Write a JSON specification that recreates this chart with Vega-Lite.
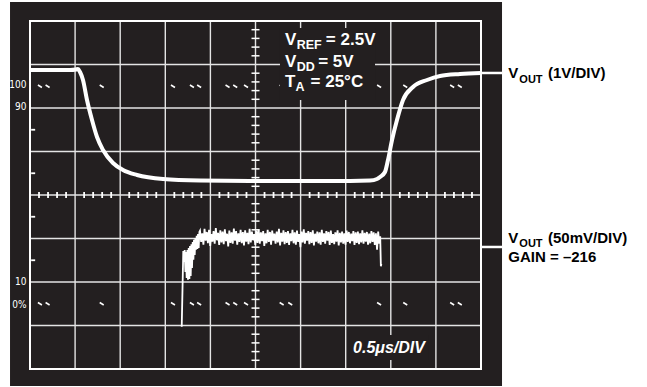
{
  "$schema": "https://vega.github.io/schema/vega-lite/v6.json",
  "width": 451,
  "height": 348,
  "autosize": {"type": "none"},
  "padding": {"left": 30, "top": 21, "right": 166, "bottom": 18},
  "background": "#ffffff",
  "config": {"view": {"stroke": null}, "axis": {"disable": true}},
  "datasets": {
    "one": [{}],
    "gridx": [{"g": 1}, {"g": 2}, {"g": 3}, {"g": 4}, {"g": 5}, {"g": 6}, {"g": 7}, {"g": 8}, {"g": 9}],
    "gridy": [{"g": 1}, {"g": 2}, {"g": 3}, {"g": 4}, {"g": 5}, {"g": 6}, {"g": 7}],
    "vticks": [{"v": 0.2}, {"v": 0.4}, {"v": 0.6}, {"v": 0.8}, {"v": 1.2}, {"v": 1.4}, {"v": 1.6}, {"v": 1.8}, {"v": 2.2}, {"v": 2.4}, {"v": 2.6}, {"v": 2.8}, {"v": 3.2}, {"v": 3.4}, {"v": 3.6}, {"v": 3.8}, {"v": 4.2}, {"v": 4.4}, {"v": 4.6}, {"v": 4.8}, {"v": 5.2}, {"v": 5.4}, {"v": 5.6}, {"v": 5.8}, {"v": 6.2}, {"v": 6.4}, {"v": 6.6}, {"v": 6.8}, {"v": 7.2}, {"v": 7.4}, {"v": 7.6}, {"v": 7.8}],
    "hticks": [{"v": 0.2}, {"v": 0.4}, {"v": 0.6}, {"v": 0.8}, {"v": 1.2}, {"v": 1.4}, {"v": 1.6}, {"v": 1.8}, {"v": 2.2}, {"v": 2.4}, {"v": 2.6}, {"v": 2.8}, {"v": 3.2}, {"v": 3.4}, {"v": 3.6}, {"v": 3.8}, {"v": 4.2}, {"v": 4.4}, {"v": 4.6}, {"v": 4.8}, {"v": 5.2}, {"v": 5.4}, {"v": 5.6}, {"v": 5.8}, {"v": 6.2}, {"v": 6.4}, {"v": 6.6}, {"v": 6.8}, {"v": 7.2}, {"v": 7.4}, {"v": 7.6}, {"v": 7.8}, {"v": 8.2}, {"v": 8.4}, {"v": 8.6}, {"v": 8.8}, {"v": 9.2}, {"v": 9.4}, {"v": 9.6}, {"v": 9.8}],
    "lticks": [{"v": 2.5}, {"v": 3.5}, {"v": 4.5}, {"v": 5.5}],
    "markers": [
      {"x": 0.22, "y": 6.5}, {"x": 0.39, "y": 6.5}, {"x": 1.59, "y": 6.5}, {"x": 3.17, "y": 6.5}, {"x": 3.59, "y": 6.5}, {"x": 3.75, "y": 6.5}, {"x": 4.38, "y": 6.5}, {"x": 4.55, "y": 6.5}, {"x": 4.79, "y": 6.5}, {"x": 5.58, "y": 6.5}, {"x": 5.77, "y": 6.5}, {"x": 7.74, "y": 6.5}, {"x": 8.32, "y": 6.5}, {"x": 9.36, "y": 6.5}, {"x": 9.53, "y": 6.5},
      {"x": 0.22, "y": 1.5}, {"x": 0.39, "y": 1.5}, {"x": 1.59, "y": 1.5}, {"x": 3.17, "y": 1.5}, {"x": 3.59, "y": 1.5}, {"x": 3.75, "y": 1.5}, {"x": 4.38, "y": 1.5}, {"x": 4.55, "y": 1.5}, {"x": 4.79, "y": 1.5}, {"x": 5.58, "y": 1.5}, {"x": 5.77, "y": 1.5}, {"x": 7.74, "y": 1.5}, {"x": 8.32, "y": 1.5}, {"x": 9.36, "y": 1.5}, {"x": 9.53, "y": 1.5}
    ],
    "top": [
      {"x": 0, "y": 6.874}, {"x": 0.443, "y": 6.874}, {"x": 0.887, "y": 6.874}, {"x": 1.02, "y": 6.885}, {"x": 1.064, "y": 6.897}, {"x": 1.109, "y": 6.828}, {"x": 1.175, "y": 6.644}, {"x": 1.264, "y": 6.184}, {"x": 1.375, "y": 5.724}, {"x": 1.486, "y": 5.333}, {"x": 1.619, "y": 5.034}, {"x": 1.84, "y": 4.736}, {"x": 2.062, "y": 4.575}, {"x": 2.373, "y": 4.46}, {"x": 2.949, "y": 4.368}, {"x": 3.769, "y": 4.333}, {"x": 4.878, "y": 4.322}, {"x": 5.987, "y": 4.322}, {"x": 7.095, "y": 4.322}, {"x": 7.539, "y": 4.333}, {"x": 7.694, "y": 4.368}, {"x": 7.761, "y": 4.414}, {"x": 7.871, "y": 4.529}, {"x": 7.938, "y": 4.805}, {"x": 8.027, "y": 5.264}, {"x": 8.137, "y": 5.724}, {"x": 8.271, "y": 6.184}, {"x": 8.492, "y": 6.483}, {"x": 8.803, "y": 6.644}, {"x": 9.091, "y": 6.736}, {"x": 9.534, "y": 6.782}, {"x": 10, "y": 6.805}
    ],
    "low": [
      {"x": 3.364, "y": 0.972}, {"x": 3.399, "y": 2.713}, {"x": 3.415, "y": 2.46}, {"x": 3.43, "y": 2.736}, {"x": 3.446, "y": 2.23}, {"x": 3.459, "y": 2.69}, {"x": 3.474, "y": 2.09}, {"x": 3.49, "y": 2.736}, {"x": 3.503, "y": 2.05}, {"x": 3.519, "y": 2.78}, {"x": 3.534, "y": 2.07}, {"x": 3.548, "y": 2.83}, {"x": 3.563, "y": 2.14}, {"x": 3.579, "y": 2.87}, {"x": 3.592, "y": 2.32}, {"x": 3.608, "y": 2.92}, {"x": 3.623, "y": 2.51}, {"x": 3.636, "y": 2.97}, {"x": 3.652, "y": 2.62}, {"x": 3.667, "y": 3.01}, {"x": 3.681, "y": 2.74}, {"x": 3.696, "y": 3.06}, {"x": 3.711, "y": 2.76}, {"x": 3.725, "y": 3.1}, {"x": 3.74, "y": 2.78}, {"x": 3.756, "y": 3.15},
      {"x": 3.77, "y": 3.18}, {"x": 3.795, "y": 2.92}, {"x": 3.82, "y": 3.12}, {"x": 3.845, "y": 2.86}, {"x": 3.87, "y": 3.22}, {"x": 3.895, "y": 2.95}, {"x": 3.92, "y": 3.15}, {"x": 3.945, "y": 2.89}, {"x": 3.97, "y": 3.2}, {"x": 3.995, "y": 2.83},
      {"x": 4.02, "y": 3.1}, {"x": 4.045, "y": 2.93}, {"x": 4.07, "y": 3.17}, {"x": 4.095, "y": 2.88}, {"x": 4.12, "y": 3.24}, {"x": 4.145, "y": 2.96}, {"x": 4.17, "y": 3.13}, {"x": 4.195, "y": 2.85}, {"x": 4.22, "y": 3.19}, {"x": 4.245, "y": 2.91},
      {"x": 4.27, "y": 3.16}, {"x": 4.295, "y": 2.87}, {"x": 4.32, "y": 3.21}, {"x": 4.345, "y": 2.94}, {"x": 4.37, "y": 3.11}, {"x": 4.395, "y": 2.82}, {"x": 4.42, "y": 3.18}, {"x": 4.445, "y": 2.9}, {"x": 4.47, "y": 3.14}, {"x": 4.495, "y": 2.88},
      {"x": 4.52, "y": 3.23}, {"x": 4.545, "y": 2.95}, {"x": 4.57, "y": 3.17}, {"x": 4.595, "y": 2.86}, {"x": 4.62, "y": 3.12}, {"x": 4.645, "y": 2.92}, {"x": 4.67, "y": 3.2}, {"x": 4.695, "y": 2.89}, {"x": 4.72, "y": 3.15}, {"x": 4.745, "y": 2.84},
      {"x": 4.77, "y": 3.19}, {"x": 4.795, "y": 2.93}, {"x": 4.82, "y": 3.13}, {"x": 4.845, "y": 2.87}, {"x": 4.87, "y": 3.22}, {"x": 4.895, "y": 2.91}, {"x": 4.92, "y": 3.16}, {"x": 4.945, "y": 2.96}, {"x": 4.97, "y": 3.1}, {"x": 4.995, "y": 2.85},
      {"x": 5.02, "y": 3.18}, {"x": 5.045, "y": 2.9}, {"x": 5.07, "y": 3.21}, {"x": 5.095, "y": 2.88}, {"x": 5.12, "y": 3.14}, {"x": 5.145, "y": 2.94}, {"x": 5.17, "y": 3.17}, {"x": 5.195, "y": 2.83}, {"x": 5.22, "y": 3.12}, {"x": 5.245, "y": 2.89},
      {"x": 5.27, "y": 3.2}, {"x": 5.295, "y": 2.92}, {"x": 5.32, "y": 3.15}, {"x": 5.345, "y": 2.86}, {"x": 5.37, "y": 3.18}, {"x": 5.395, "y": 2.95}, {"x": 5.42, "y": 3.11}, {"x": 5.445, "y": 2.88}, {"x": 5.47, "y": 3.16}, {"x": 5.495, "y": 2.91},
      {"x": 5.52, "y": 3.22}, {"x": 5.545, "y": 2.84}, {"x": 5.57, "y": 3.13}, {"x": 5.595, "y": 2.93}, {"x": 5.62, "y": 3.19}, {"x": 5.645, "y": 2.87}, {"x": 5.67, "y": 3.15}, {"x": 5.695, "y": 2.9}, {"x": 5.72, "y": 3.17}, {"x": 5.745, "y": 2.85},
      {"x": 5.77, "y": 3.12}, {"x": 5.795, "y": 2.94}, {"x": 5.82, "y": 3.2}, {"x": 5.845, "y": 2.89}, {"x": 5.87, "y": 3.14}, {"x": 5.895, "y": 2.86}, {"x": 5.92, "y": 3.18}, {"x": 5.945, "y": 2.92}, {"x": 5.97, "y": 3.1}, {"x": 5.995, "y": 2.8},
      {"x": 6.02, "y": 3.16}, {"x": 6.045, "y": 2.91}, {"x": 6.07, "y": 3.21}, {"x": 6.095, "y": 2.88}, {"x": 6.12, "y": 3.13}, {"x": 6.145, "y": 2.95}, {"x": 6.17, "y": 3.17}, {"x": 6.195, "y": 2.87}, {"x": 6.22, "y": 3.15}, {"x": 6.245, "y": 2.9},
      {"x": 6.27, "y": 3.19}, {"x": 6.295, "y": 2.84}, {"x": 6.32, "y": 3.11}, {"x": 6.345, "y": 2.93}, {"x": 6.37, "y": 3.16}, {"x": 6.395, "y": 2.89}, {"x": 6.42, "y": 3.14}, {"x": 6.445, "y": 2.86}, {"x": 6.47, "y": 3.2}, {"x": 6.495, "y": 2.92},
      {"x": 6.52, "y": 3.12}, {"x": 6.545, "y": 2.88}, {"x": 6.57, "y": 3.17}, {"x": 6.595, "y": 2.95}, {"x": 6.62, "y": 3.15}, {"x": 6.645, "y": 2.85}, {"x": 6.67, "y": 3.18}, {"x": 6.695, "y": 2.9}, {"x": 6.72, "y": 3.1}, {"x": 6.745, "y": 2.87},
      {"x": 6.77, "y": 3.14}, {"x": 6.795, "y": 2.93}, {"x": 6.82, "y": 3.19}, {"x": 6.845, "y": 2.84}, {"x": 6.87, "y": 3.13}, {"x": 6.895, "y": 2.91}, {"x": 6.92, "y": 3.16}, {"x": 6.945, "y": 2.88}, {"x": 6.97, "y": 3.12}, {"x": 6.995, "y": 2.86},
      {"x": 7.02, "y": 3.18}, {"x": 7.045, "y": 2.92}, {"x": 7.07, "y": 3.15}, {"x": 7.095, "y": 2.89}, {"x": 7.12, "y": 3.11}, {"x": 7.145, "y": 2.94}, {"x": 7.17, "y": 3.17}, {"x": 7.195, "y": 2.85}, {"x": 7.22, "y": 3.14}, {"x": 7.245, "y": 2.9},
      {"x": 7.27, "y": 3.16}, {"x": 7.295, "y": 2.87}, {"x": 7.32, "y": 3.12}, {"x": 7.345, "y": 2.91}, {"x": 7.37, "y": 3.19}, {"x": 7.395, "y": 2.88}, {"x": 7.42, "y": 3.13}, {"x": 7.445, "y": 2.93}, {"x": 7.47, "y": 3.15}, {"x": 7.495, "y": 2.86},
      {"x": 7.52, "y": 3.11}, {"x": 7.545, "y": 2.89}, {"x": 7.57, "y": 3.17}, {"x": 7.595, "y": 2.92}, {"x": 7.62, "y": 3.14}, {"x": 7.645, "y": 2.85}, {"x": 7.67, "y": 3.12}, {"x": 7.695, "y": 2.74}, {"x": 7.72, "y": 3.16}, {"x": 7.745, "y": 2.88},
      {"x": 7.765, "y": 3.05}, {"x": 7.78, "y": 2.36}, {"x": 7.79, "y": 2.42}
    ],
    "leaders": [{"y": 6.805}, {"y": 2.805}],
    "scopeMain": [
      {"x": 5.654, "y": 7.448, "t": "V"}, {"x": 6.56, "y": 7.448, "t": "= 2.5V"},
      {"x": 5.654, "y": 6.95, "t": "V"}, {"x": 6.39, "y": 6.95, "t": "= 5V"},
      {"x": 5.654, "y": 6.49, "t": "T"}, {"x": 6.22, "y": 6.49, "t": "= 25°C"}
    ],
    "scopeSub": [
      {"x": 5.913, "y": 7.349, "t": "REF"}, {"x": 5.913, "y": 6.857, "t": "DD"}, {"x": 5.885, "y": 6.398, "t": "A"}
    ],
    "timeLab": [{"x": 7.96, "y": 0.368, "t": "0.5μs/DIV"}],
    "leftLab": [{"y": 6.529, "t": "100"}, {"y": 6.023, "t": "90"}, {"y": 2.0, "t": "10"}, {"y": 1.47, "t": "0%"}],
    "rightMain": [
      {"x": 10.605, "y": 6.683, "t": "V"}, {"x": 11.486, "y": 6.683, "t": "(1V/DIV)"},
      {"x": 10.605, "y": 2.9, "t": "V"}, {"x": 11.486, "y": 2.9, "t": "(50mV/DIV)"},
      {"x": 10.605, "y": 2.45, "t": "GAIN = –216"}
    ],
    "rightSub": [{"x": 10.85, "y": 6.568, "t": "OUT"}, {"x": 10.85, "y": 2.81, "t": "OUT"}]
  },
  "layer": [
    {
      "data": {"name": "one"},
      "mark": {"type": "rect", "color": "#231f20"},
      "encoding": {
        "x": {"datum": -0.443, "type": "quantitative", "scale": {"domain": [0, 10], "nice": false, "zero": false}},
        "x2": {"datum": 10.466},
        "y": {"datum": -0.391, "type": "quantitative", "scale": {"domain": [0, 8], "nice": false, "zero": false}},
        "y2": {"datum": 8.437}
      }
    },
    {
      "data": {"name": "gridx"},
      "mark": {"type": "rule", "color": "#e4e4e4", "strokeWidth": 1.4},
      "encoding": {"x": {"field": "g", "type": "quantitative", "scale": {"domain": [0, 10], "nice": false, "zero": false}}}
    },
    {
      "data": {"name": "gridy"},
      "mark": {"type": "rule", "color": "#e4e4e4", "strokeWidth": 1.4},
      "encoding": {"y": {"field": "g", "type": "quantitative", "scale": {"domain": [0, 8], "nice": false, "zero": false}}}
    },
    {
      "data": {"name": "one"},
      "mark": {"type": "rect", "filled": false, "stroke": "#ffffff", "strokeWidth": 2},
      "encoding": {
        "x": {"datum": 0, "type": "quantitative", "scale": {"domain": [0, 10], "nice": false, "zero": false}},
        "x2": {"datum": 10},
        "y": {"datum": 0, "type": "quantitative", "scale": {"domain": [0, 8], "nice": false, "zero": false}},
        "y2": {"datum": 8}
      }
    },
    {
      "data": {"name": "vticks"},
      "mark": {"type": "tick", "orient": "horizontal", "color": "#ffffff", "size": 8, "thickness": 1.5, "opacity": 1},
      "encoding": {
        "x": {"datum": 5, "type": "quantitative", "scale": {"domain": [0, 10], "nice": false, "zero": false}},
        "y": {"field": "v", "type": "quantitative", "scale": {"domain": [0, 8], "nice": false, "zero": false}}
      }
    },
    {
      "data": {"name": "hticks"},
      "mark": {"type": "tick", "orient": "vertical", "color": "#ffffff", "size": 6, "thickness": 1.8, "opacity": 1},
      "encoding": {
        "x": {"field": "v", "type": "quantitative", "scale": {"domain": [0, 10], "nice": false, "zero": false}},
        "y": {"datum": 4, "type": "quantitative", "scale": {"domain": [0, 8], "nice": false, "zero": false}}
      }
    },
    {
      "data": {"name": "lticks"},
      "mark": {"type": "tick", "orient": "horizontal", "color": "#ffffff", "size": 4, "thickness": 1.8, "opacity": 1},
      "encoding": {
        "x": {"datum": 0.07, "type": "quantitative", "scale": {"domain": [0, 10], "nice": false, "zero": false}},
        "y": {"field": "v", "type": "quantitative", "scale": {"domain": [0, 8], "nice": false, "zero": false}}
      }
    },
    {
      "data": {"name": "markers"},
      "mark": {"type": "point", "shape": "M-1,-0.6L1,0.6", "filled": false, "stroke": "#ffffff", "strokeWidth": 1.6, "size": 16, "opacity": 1},
      "encoding": {
        "x": {"field": "x", "type": "quantitative", "scale": {"domain": [0, 10], "nice": false, "zero": false}},
        "y": {"field": "y", "type": "quantitative", "scale": {"domain": [0, 8], "nice": false, "zero": false}}
      }
    },
    {
      "data": {"name": "one"},
      "mark": {"type": "rect", "color": "#231f20"},
      "encoding": {
        "x": {"datum": 5.543, "type": "quantitative", "scale": {"domain": [0, 10], "nice": false, "zero": false}},
        "x2": {"datum": 7.65},
        "y": {"datum": 6.184, "type": "quantitative", "scale": {"domain": [0, 8], "nice": false, "zero": false}},
        "y2": {"datum": 7.839}
      }
    },
    {
      "data": {"name": "one"},
      "mark": {"type": "rect", "color": "#231f20"},
      "encoding": {
        "x": {"datum": 7.095, "type": "quantitative", "scale": {"domain": [0, 10], "nice": false, "zero": false}},
        "x2": {"datum": 8.825},
        "y": {"datum": 0.207, "type": "quantitative", "scale": {"domain": [0, 8], "nice": false, "zero": false}},
        "y2": {"datum": 0.782}
      }
    },
    {
      "data": {"name": "leaders"},
      "mark": {"type": "rule", "color": "#ffffff", "strokeWidth": 2.5},
      "encoding": {
        "x": {"datum": 10, "type": "quantitative", "scale": {"domain": [0, 10], "nice": false, "zero": false}},
        "x2": {"datum": 10.466},
        "y": {"field": "y", "type": "quantitative", "scale": {"domain": [0, 8], "nice": false, "zero": false}}
      }
    },
    {
      "data": {"name": "top"},
      "mark": {"type": "line", "color": "#ffffff", "strokeWidth": 4, "strokeCap": "butt", "strokeJoin": "round", "interpolate": "monotone"},
      "encoding": {
        "x": {"field": "x", "type": "quantitative", "scale": {"domain": [0, 10], "nice": false, "zero": false}},
        "y": {"field": "y", "type": "quantitative", "scale": {"domain": [0, 8], "nice": false, "zero": false}}
      }
    },
    {
      "data": {"name": "low"},
      "mark": {"type": "line", "color": "#ffffff", "strokeWidth": 1.8},
      "encoding": {
        "x": {"field": "x", "type": "quantitative", "scale": {"domain": [0, 10], "nice": false, "zero": false}},
        "y": {"field": "y", "type": "quantitative", "scale": {"domain": [0, 8], "nice": false, "zero": false}}
      }
    },
    {
      "data": {"name": "scopeMain"},
      "mark": {"type": "text", "color": "#ffffff", "font": "Liberation Sans", "fontWeight": "bold", "fontSize": 17, "align": "left", "baseline": "alphabetic"},
      "encoding": {
        "x": {"field": "x", "type": "quantitative", "scale": {"domain": [0, 10], "nice": false, "zero": false}},
        "y": {"field": "y", "type": "quantitative", "scale": {"domain": [0, 8], "nice": false, "zero": false}},
        "text": {"field": "t"}
      }
    },
    {
      "data": {"name": "scopeSub"},
      "mark": {"type": "text", "color": "#ffffff", "font": "Liberation Sans", "fontWeight": "bold", "fontSize": 12.5, "align": "left", "baseline": "alphabetic"},
      "encoding": {
        "x": {"field": "x", "type": "quantitative", "scale": {"domain": [0, 10], "nice": false, "zero": false}},
        "y": {"field": "y", "type": "quantitative", "scale": {"domain": [0, 8], "nice": false, "zero": false}},
        "text": {"field": "t"}
      }
    },
    {
      "data": {"name": "timeLab"},
      "mark": {"type": "text", "color": "#ffffff", "font": "Liberation Sans", "fontWeight": "bold", "fontStyle": "italic", "fontSize": 16, "align": "center", "baseline": "alphabetic"},
      "encoding": {
        "x": {"field": "x", "type": "quantitative", "scale": {"domain": [0, 10], "nice": false, "zero": false}},
        "y": {"field": "y", "type": "quantitative", "scale": {"domain": [0, 8], "nice": false, "zero": false}},
        "text": {"field": "t"}
      }
    },
    {
      "data": {"name": "leftLab"},
      "mark": {"type": "text", "color": "#ffffff", "font": "Liberation Sans Narrow, DejaVu Sans Condensed, sans-serif", "fontSize": 10, "align": "right", "baseline": "middle", "dx": -3.5},
      "encoding": {
        "x": {"datum": 0, "type": "quantitative", "scale": {"domain": [0, 10], "nice": false, "zero": false}},
        "y": {"field": "y", "type": "quantitative", "scale": {"domain": [0, 8], "nice": false, "zero": false}},
        "text": {"field": "t"}
      }
    },
    {
      "data": {"name": "rightMain"},
      "mark": {"type": "text", "color": "#000000", "font": "Liberation Sans", "fontWeight": "bold", "fontSize": 15, "align": "left", "baseline": "alphabetic"},
      "encoding": {
        "x": {"field": "x", "type": "quantitative", "scale": {"domain": [0, 10], "nice": false, "zero": false}},
        "y": {"field": "y", "type": "quantitative", "scale": {"domain": [0, 8], "nice": false, "zero": false}},
        "text": {"field": "t"}
      }
    },
    {
      "data": {"name": "rightSub"},
      "mark": {"type": "text", "color": "#000000", "font": "Liberation Sans", "fontWeight": "bold", "fontSize": 11, "align": "left", "baseline": "alphabetic"},
      "encoding": {
        "x": {"field": "x", "type": "quantitative", "scale": {"domain": [0, 10], "nice": false, "zero": false}},
        "y": {"field": "y", "type": "quantitative", "scale": {"domain": [0, 8], "nice": false, "zero": false}},
        "text": {"field": "t"}
      }
    }
  ]
}
